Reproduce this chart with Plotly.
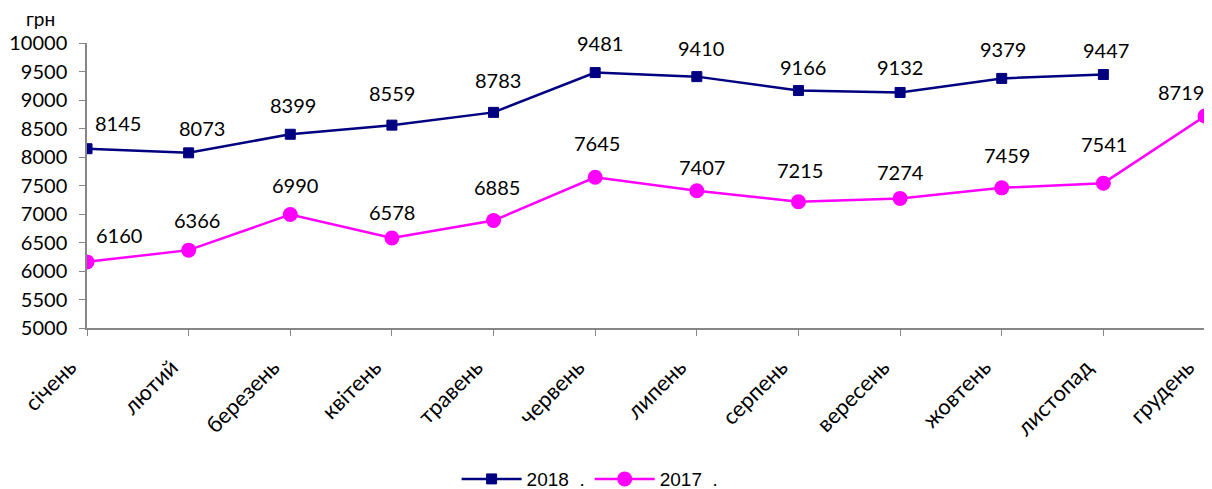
import plotly.graph_objects as go

months = ["січень", "лютий", "березень", "квітень", "травень", "червень",
          "липень", "серпень", "вересень", "жовтень", "листопад", "грудень"]
values_2018 = [8145, 8073, 8399, 8559, 8783, 9481, 9410, 9166, 9132, 9379, 9447]
values_2017 = [6160, 6366, 6990, 6578, 6885, 7645, 7407, 7215, 7274, 7459, 7541, 8719]
y_ticks = [5000, 5500, 6000, 6500, 7000, 7500, 8000, 8500, 9000, 9500, 10000]
y_tick_text = [str(v) for v in y_ticks]

# label pixel offsets (dx, dy) relative to each point
off_2018 = [(31, -26), (13, -25), (3, -29), (0, -32), (4, -32), (5, -30),
            (4, -29), (5, -24), (0, -25), (1, -29), (3, -25)]
off_2017 = [(32, -27), (8, -30), (5, -30), (0, -26), (3, -34), (2, -34),
            (5, -24), (2, -32), (0, -26), (5, -33), (1, -39), (-24, -24)]

fig = go.Figure()
fig.add_trace(go.Scatter(
    x=months[:len(values_2018)], y=values_2018, name="2018  .",
    mode="lines+markers",
    line=dict(color="#000080", width=2.5),
    marker=dict(symbol="square", size=10, color="#000080",
                line=dict(color="#000080", width=1)),
))
fig.add_trace(go.Scatter(
    x=months, y=values_2017, name="2017  .",
    mode="lines+markers",
    line=dict(color="#FF00FF", width=2.5),
    marker=dict(symbol="circle", size=15, color="#FF00FF"),
))

annotations = []
lab_font = dict(family="Lato, Open Sans, sans-serif", size=20, color="#000000")
for m, v, (dx, dy) in zip(months, values_2018, off_2018):
    annotations.append(dict(x=m, y=v, text=str(v), showarrow=False,
                            xshift=dx, yshift=-dy, font=lab_font))
for m, v, (dx, dy) in zip(months, values_2017, off_2017):
    annotations.append(dict(x=m, y=v, text=str(v), showarrow=False,
                            xshift=dx, yshift=-dy, font=lab_font))
annotations.append(dict(xref="paper", yref="paper", x=-0.042, y=1.0,
                        yshift=25, text="грн", showarrow=False,
                        xanchor="center", yanchor="middle",
                        font=dict(family="Lato, Open Sans, sans-serif", size=19, color="#000000")))

# page body has an 8px margin, so the figure is 8px smaller than the window
fig.update_layout(
    width=1204, height=481,
    margin=dict(l=79, r=7, t=35, b=161, autoexpand=False),
    paper_bgcolor="white", plot_bgcolor="white",
    showlegend=True,
    legend=dict(orientation="h", x=0.45, xanchor="center", y=-0.53, yanchor="middle",
                font=dict(family="Liberation Sans, Arial, sans-serif", size=19, color="#000000"),
                itemwidth=60, traceorder="normal"),
    annotations=annotations,
)
fig.update_xaxes(
    type="category", categoryorder="array", categoryarray=months,
    range=[0, len(months) - 1], automargin=False,
    showline=True, linecolor="#868686", linewidth=1.5,
    ticks="outside", ticklen=6, tickcolor="#868686",
    tickangle=-45, showgrid=False, zeroline=False,
    ticklabelstandoff=10, ticklabelshift=-17,
    tickfont=dict(family="Lato, Open Sans, sans-serif", size=22, color="#000000"),
)
fig.update_yaxes(
    range=[5000, 10000], tickvals=y_ticks, ticktext=y_tick_text, automargin=False,
    showline=True, linecolor="#868686", linewidth=1.5,
    ticks="outside", ticklen=6, tickcolor="#868686",
    showgrid=False, zeroline=False, ticklabelstandoff=8,
    tickfont=dict(family="Lato, Open Sans, sans-serif", size=20, color="#000000"),
)

fig.write_html("out.html")
